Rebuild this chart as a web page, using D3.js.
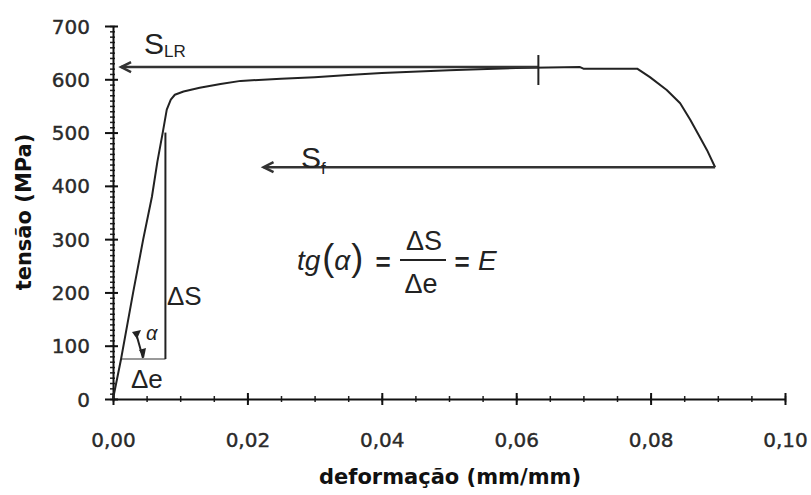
<!DOCTYPE html>
<html><head><meta charset="utf-8">
<script src="https://cdn.jsdelivr.net/npm/d3@7"></script>
<style>html,body{margin:0;padding:0;background:#fff}svg{display:block}</style>
</head><body>
<script>
// ---- data ----
const strain = [0, 0.0012, 0.0030, 0.0045, 0.0058, 0.0066, 0.0074, 0.0080, 0.0086, 0.0092, 0.0105, 0.0129, 0.0160, 0.0190, 0.0250, 0.0300, 0.0350, 0.0400, 0.0500, 0.0600, 0.0695, 0.0700, 0.0780, 0.0799, 0.0824, 0.0844, 0.0859, 0.0873, 0.0884, 0.0896];
const stress = [0, 75, 200, 300, 380, 445, 500, 543, 562, 571, 577, 584, 591, 597, 601, 604, 608, 612, 617, 621, 623, 620, 620, 604, 580, 555, 524, 492, 467, 435];
const xTicks = [0, 0.02, 0.04, 0.06, 0.08, 0.10];
const yTicks = [0, 100, 200, 300, 400, 500, 600, 700];
const xTitle = "deformação (mm/mm)";
const yTitle = "tensão (MPa)";
// annotations (data units)
const sLR = 623, sLRfrom = 0.0633, sLRto = 0.0012;
const sF = 435, sFfrom = 0.0896, sFto = 0.0224;
const dS = {x: 0.0078, y0: 75, y1: 500};
const dE = {x0: 0.0013, x1: 0.0078, y: 75};
const alphaArrow = [[0.00342, 124], [0.00446, 77]];

const W = 811, H = 495;
const x = d3.scaleLinear().domain([0, 0.1]).range([113, 785]);
const y = d3.scaleLinear().domain([0, 700]).range([399, 26]);

const svg = d3.select("body").append("svg").attr("width", W).attr("height", H);
svg.append("rect").attr("width", W).attr("height", H).attr("fill", "#fff");

const fmt = v => d3.format(".2f")(v).replace(".", ",");

// minor ticks
const xMinor = d3.range(0, 0.1001, 0.005);
const yMinor = d3.range(0, 701, 10);
const gxm = svg.append("g").attr("transform", `translate(0,${y(0)})`)
  .call(d3.axisBottom(x).tickValues(xMinor).tickFormat("").tickSizeOuter(0));
gxm.selectAll(".tick line").attr("y1", -3).attr("y2", 3).attr("stroke", "#222").attr("stroke-width", 1.5);
gxm.select(".domain").remove();
const gym = svg.append("g").attr("transform", `translate(${x(0)},0)`)
  .call(d3.axisLeft(y).tickValues(yMinor).tickFormat("").tickSizeOuter(0));
gym.selectAll(".tick line").attr("x1", -3).attr("x2", 2).attr("stroke", "#222").attr("stroke-width", 1.5);
gym.select(".domain").remove();

// major axes
const gx = svg.append("g").attr("transform", `translate(0,${y(0)})`)
  .call(d3.axisBottom(x).tickValues(xTicks).tickFormat(fmt).tickSizeOuter(0));
gx.selectAll(".tick line").attr("y1", -6).attr("y2", 6).attr("stroke", "#111").attr("stroke-width", 2);
gx.select(".domain").attr("stroke", "#111").attr("stroke-width", 2);
gx.selectAll(".tick text").attr("font-family", "DejaVu Sans").attr("font-size", 20).attr("fill", "#2a2a2a")
  .attr("stroke", "#2a2a2a").attr("stroke-width", 0.4).attr("dy", "0").attr("y", 48);

const gy = svg.append("g").attr("transform", `translate(${x(0)},0)`)
  .call(d3.axisLeft(y).tickValues(yTicks).tickFormat(d3.format("d")).tickSizeOuter(0));
gy.selectAll(".tick line").attr("x1", -8).attr("x2", 5).attr("stroke", "#111").attr("stroke-width", 2);
gy.select(".domain").attr("stroke", "#111").attr("stroke-width", 2);
gy.selectAll(".tick text").attr("font-family", "DejaVu Sans").attr("font-size", 20).attr("fill", "#2a2a2a")
  .attr("stroke", "#2a2a2a").attr("stroke-width", 0.4).attr("x", -23).attr("dy", "0.35em");

// titles
svg.append("text").attr("x", 450).attr("y", 484).attr("text-anchor", "middle")
  .attr("font-family", "DejaVu Sans").attr("font-weight", "bold").attr("font-size", 21).attr("fill", "#111").text(xTitle);
svg.append("text").attr("transform", "translate(31,212) rotate(-90)").attr("text-anchor", "middle")
  .attr("font-family", "DejaVu Sans").attr("font-weight", "bold").attr("font-size", 21).attr("fill", "#111").text(yTitle);

// ΔS / Δe construction lines
svg.append("line").attr("x1", x(dE.x0)).attr("x2", x(dE.x1)).attr("y1", y(dE.y)).attr("y2", y(dE.y))
  .attr("stroke", "#999").attr("stroke-width", 2);
svg.append("line").attr("x1", x(dS.x)).attr("x2", x(dS.x)).attr("y1", y(dS.y0)).attr("y2", y(dS.y1))
  .attr("stroke", "#222").attr("stroke-width", 2);

// curve
const pts = strain.map((s, i) => [s, stress[i]]);
svg.append("path").datum(pts)
  .attr("d", d3.line().x(d => x(d[0])).y(d => y(d[1])))
  .attr("fill", "none").attr("stroke", "#222").attr("stroke-width", 2).attr("stroke-linejoin", "round");

// arrows
function leftArrow(s, from, to) {
  svg.append("line").attr("x1", x(from)).attr("x2", x(to)).attr("y1", y(s)).attr("y2", y(s))
    .attr("stroke", "#333").attr("stroke-width", 2.5);
  const tx = x(to), ty = y(s);
  svg.append("path").attr("d", `M${tx + 10},${ty - 5}L${tx},${ty}L${tx + 10},${ty + 5}`)
    .attr("fill", "none").attr("stroke", "#333").attr("stroke-width", 2.5);
}
leftArrow(sLR, sLRfrom, sLRto);
leftArrow(sF, sFfrom, sFto);
// vertical tick mark at S_LR
svg.append("line").attr("x1", x(sLRfrom)).attr("x2", x(sLRfrom)).attr("y1", y(sLR) - 12).attr("y2", y(sLR) + 18)
  .attr("stroke", "#222").attr("stroke-width", 2);

// alpha arrow
const a0 = [x(alphaArrow[0][0]), y(alphaArrow[0][1])], a1 = [x(alphaArrow[1][0]), y(alphaArrow[1][1])];
svg.append("line").attr("x1", a0[0]).attr("y1", a0[1]).attr("x2", a1[0]).attr("y2", a1[1]).attr("stroke", "#222").attr("stroke-width", 2);
svg.append("path").attr("d", `M${a1[0] - 4},${a1[1] - 8}L${a1[0] + 3},${a1[1] - 10}L${a1[0] + 1},${a1[1]}Z`).attr("fill", "#222");
svg.append("path").attr("d", `M${a0[0] - 4},${a0[1] - 1}L${a0[0] + 5},${a0[1] - 3}L${a0[0] + 1},${a0[1] + 6}Z`).attr("fill", "#222");

// labels
const T = (px, py, txt, size, opts = {}) => svg.append("text").attr("x", px).attr("y", py)
  .attr("font-family", opts.family || "Liberation Sans").attr("font-size", size)
  .attr("font-style", opts.italic ? "italic" : "normal").attr("font-weight", opts.bold ? "bold" : "normal")
  .attr("text-anchor", opts.anchor || "start").attr("fill", opts.fill || "#222").text(txt);

T(144, 54, "S", 30);
T(164, 57, "LR", 17);
T(301, y(sF) + 1, "S", 30);
T(321, y(sF) + 7, "f", 17);
T(167, 305, "ΔS", 26);
T(131, 388, "Δe", 26);
T(146, 340, "α", 20, {italic: true});

// formula
const tg = svg.append("text").attr("x", 297).attr("y", 270).attr("font-family", "Liberation Sans").attr("fill", "#222");
tg.append("tspan").attr("font-size", 28).attr("font-style", "italic").text("tg");
tg.append("tspan").attr("font-size", 36).attr("dx", 2).text("(");
tg.append("tspan").attr("font-size", 28).attr("font-style", "italic").text("α");
tg.append("tspan").attr("font-size", 36).attr("dx", 1).text(")");
T(383, 271, "=", 26, {bold: true, anchor: "middle"});
T(424, 250, "ΔS", 27, {anchor: "middle"});
svg.append("line").attr("x1", 400).attr("x2", 446).attr("y1", 260).attr("y2", 260).attr("stroke", "#222").attr("stroke-width", 2);
T(421, 293, "Δe", 27, {anchor: "middle"});
T(462, 271, "=", 26, {bold: true, anchor: "middle"});
T(478, 270, "E", 28, {italic: true});
</script>
</body></html>
